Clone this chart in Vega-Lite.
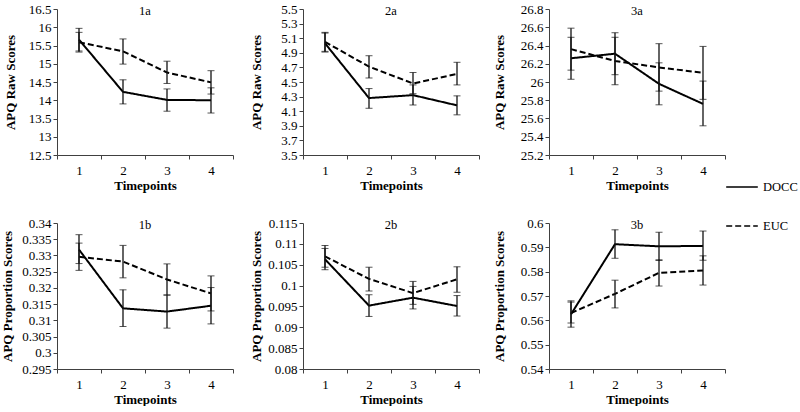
{
  "$schema": "https://vega.github.io/schema/vega-lite/v6.json",
  "padding": {"left": 1, "top": 3, "right": 0, "bottom": 0},
  "background": "white",
  "config": {
    "font": "Liberation Serif, Times New Roman, DejaVu Serif, serif",
    "view": {"stroke": null},
    "axis": {"grid": false, "labelFont": "Liberation Serif, Times New Roman, DejaVu Serif, serif", "labelFontSize": 13, "labelColor": "#000", "titleFont": "Liberation Serif, Times New Roman, DejaVu Serif, serif", "titleFontSize": 13, "titleFontWeight": "bold", "titleColor": "#000", "domainColor": "#404040", "tickColor": "#404040", "tickSize": 4},
    "axisX": {"labelAngle": 0, "tickBand": "extent", "labelPadding": 5, "titlePadding": 2},
    "axisY": {"labelPadding": 2, "titleBaseline": "middle", "titleY": 73, "titleAngle": -90, "labelOverlap": false, "labelExpr": "format(datum.value, '~g')"},
    "title": {"font": "Liberation Serif, Times New Roman, DejaVu Serif, serif", "fontSize": 12.5, "fontWeight": "normal", "offset": -14, "color": "#000"},
    "legend": {"orient": "none", "legendX": 668, "legendY": 161, "symbolType": "stroke", "symbolSize": 1000, "labelFont": "Liberation Serif, Times New Roman, DejaVu Serif, serif", "labelFontSize": 12.5, "labelColor": "#000", "rowPadding": 15, "labelOffset": 4, "title": null}
  },
  "datasets": {
    "d": [
      {"panel": "1a", "group": "DOCC", "t": 1, "mean": 15.66, "hi": 15.97, "lo": 15.35},
      {"panel": "1a", "group": "DOCC", "t": 2, "mean": 14.23, "hi": 14.56, "lo": 13.90},
      {"panel": "1a", "group": "DOCC", "t": 3, "mean": 14.01, "hi": 14.31, "lo": 13.70},
      {"panel": "1a", "group": "DOCC", "t": 4, "mean": 14.00, "hi": 14.34, "lo": 13.65},
      {"panel": "1a", "group": "EUC", "t": 1, "mean": 15.59, "hi": 15.86, "lo": 15.32},
      {"panel": "1a", "group": "EUC", "t": 2, "mean": 15.34, "hi": 15.68, "lo": 14.99},
      {"panel": "1a", "group": "EUC", "t": 3, "mean": 14.76, "hi": 15.07, "lo": 14.46},
      {"panel": "1a", "group": "EUC", "t": 4, "mean": 14.49, "hi": 14.81, "lo": 14.17},
      {"panel": "2a", "group": "DOCC", "t": 1, "mean": 5.03, "hi": 5.17, "lo": 4.91},
      {"panel": "2a", "group": "DOCC", "t": 2, "mean": 4.28, "hi": 4.41, "lo": 4.14},
      {"panel": "2a", "group": "DOCC", "t": 3, "mean": 4.32, "hi": 4.46, "lo": 4.185},
      {"panel": "2a", "group": "DOCC", "t": 4, "mean": 4.18, "hi": 4.31, "lo": 4.05},
      {"panel": "2a", "group": "EUC", "t": 1, "mean": 5.05, "hi": 5.18, "lo": 4.92},
      {"panel": "2a", "group": "EUC", "t": 2, "mean": 4.71, "hi": 4.86, "lo": 4.555},
      {"panel": "2a", "group": "EUC", "t": 3, "mean": 4.48, "hi": 4.63, "lo": 4.34},
      {"panel": "2a", "group": "EUC", "t": 4, "mean": 4.61, "hi": 4.77, "lo": 4.46},
      {"panel": "3a", "group": "DOCC", "t": 1, "mean": 26.26, "hi": 26.49, "lo": 26.03},
      {"panel": "3a", "group": "DOCC", "t": 2, "mean": 26.31, "hi": 26.54, "lo": 26.08},
      {"panel": "3a", "group": "DOCC", "t": 3, "mean": 25.98, "hi": 26.21, "lo": 25.75},
      {"panel": "3a", "group": "DOCC", "t": 4, "mean": 25.76, "hi": 26.01, "lo": 25.52},
      {"panel": "3a", "group": "EUC", "t": 1, "mean": 26.36, "hi": 26.59, "lo": 26.13},
      {"panel": "3a", "group": "EUC", "t": 2, "mean": 26.23, "hi": 26.49, "lo": 25.97},
      {"panel": "3a", "group": "EUC", "t": 3, "mean": 26.16, "hi": 26.42, "lo": 25.90},
      {"panel": "3a", "group": "EUC", "t": 4, "mean": 26.10, "hi": 26.39, "lo": 25.81},
      {"panel": "1b", "group": "DOCC", "t": 1, "mean": 0.3318, "hi": 0.3364, "lo": 0.3275},
      {"panel": "1b", "group": "DOCC", "t": 2, "mean": 0.3137, "hi": 0.3194, "lo": 0.3081},
      {"panel": "1b", "group": "DOCC", "t": 3, "mean": 0.3127, "hi": 0.3178, "lo": 0.3076},
      {"panel": "1b", "group": "DOCC", "t": 4, "mean": 0.3145, "hi": 0.3201, "lo": 0.3089},
      {"panel": "1b", "group": "EUC", "t": 1, "mean": 0.3296, "hi": 0.3338, "lo": 0.3254},
      {"panel": "1b", "group": "EUC", "t": 2, "mean": 0.3281, "hi": 0.3331, "lo": 0.3231},
      {"panel": "1b", "group": "EUC", "t": 3, "mean": 0.3226, "hi": 0.3274, "lo": 0.3178},
      {"panel": "1b", "group": "EUC", "t": 4, "mean": 0.3183, "hi": 0.3237, "lo": 0.3129},
      {"panel": "2b", "group": "DOCC", "t": 1, "mean": 0.1063, "hi": 0.1089, "lo": 0.1038},
      {"panel": "2b", "group": "DOCC", "t": 2, "mean": 0.0952, "hi": 0.0978, "lo": 0.0926},
      {"panel": "2b", "group": "DOCC", "t": 3, "mean": 0.0971, "hi": 0.0998, "lo": 0.0944},
      {"panel": "2b", "group": "DOCC", "t": 4, "mean": 0.0951, "hi": 0.0976, "lo": 0.0927},
      {"panel": "2b", "group": "EUC", "t": 1, "mean": 0.1070, "hi": 0.1096, "lo": 0.1044},
      {"panel": "2b", "group": "EUC", "t": 2, "mean": 0.1016, "hi": 0.1044, "lo": 0.0987},
      {"panel": "2b", "group": "EUC", "t": 3, "mean": 0.0982, "hi": 0.1010, "lo": 0.0955},
      {"panel": "2b", "group": "EUC", "t": 4, "mean": 0.1015, "hi": 0.1045, "lo": 0.0984},
      {"panel": "3b", "group": "DOCC", "t": 1, "mean": 0.5625, "hi": 0.5680, "lo": 0.5572},
      {"panel": "3b", "group": "DOCC", "t": 2, "mean": 0.5913, "hi": 0.5972, "lo": 0.5855},
      {"panel": "3b", "group": "DOCC", "t": 3, "mean": 0.5904, "hi": 0.5962, "lo": 0.5846},
      {"panel": "3b", "group": "DOCC", "t": 4, "mean": 0.5906, "hi": 0.5967, "lo": 0.5847},
      {"panel": "3b", "group": "EUC", "t": 1, "mean": 0.5630, "hi": 0.5675, "lo": 0.5589},
      {"panel": "3b", "group": "EUC", "t": 2, "mean": 0.5709, "hi": 0.5765, "lo": 0.5651},
      {"panel": "3b", "group": "EUC", "t": 3, "mean": 0.5795, "hi": 0.5849, "lo": 0.5741},
      {"panel": "3b", "group": "EUC", "t": 4, "mean": 0.5805, "hi": 0.5865, "lo": 0.5745}
    ]
  },
  "columns": 3,
  "spacing": {"row": 68, "column": 70},
  "bounds": "flush",
  "concat": [
    {
      "width": 176, "height": 146,
      "title": "1a",
      "data": {"name": "d"},
      "transform": [{"filter": "datum.panel === '1a'"}],
      "encoding": {
        "x": {"field": "t", "type": "ordinal", "title": "Timepoints", "scale": {"type": "band", "paddingInner": 0, "paddingOuter": 0}}
      },
      "layer": [
        {"mark": {"type": "line", "color": "black", "strokeWidth": 2},
         "encoding": {"y": {"field": "mean", "type": "quantitative", "title": "APQ Raw Scores", "scale": {"domain": [12.5, 16.5], "nice": false, "zero": false}, "axis": {"titleX": -47, "labelOverlap": false, "tickCount": 30, "values": [12.5, 13, 13.5, 14, 14.5, 15, 15.5, 16, 16.5]}},
           "strokeDash": {"field": "group", "type": "nominal", "scale": {"domain": ["DOCC", "EUC"], "range": [[1, 0], [6, 3]]}}}},
        {"mark": {"type": "errorbar", "ticks": {"size": 7, "strokeWidth": 1.3}, "rule": {"strokeWidth": 1.3}, "color": "#111"},
         "encoding": {"y": {"field": "lo", "type": "quantitative", "title": "APQ Raw Scores"}, "y2": {"field": "hi"}, "detail": {"field": "group"}}}
      ]
    },
    {
      "width": 176, "height": 146,
      "title": "2a",
      "data": {"name": "d"},
      "transform": [{"filter": "datum.panel === '2a'"}],
      "encoding": {
        "x": {"field": "t", "type": "ordinal", "title": "Timepoints", "scale": {"type": "band", "paddingInner": 0, "paddingOuter": 0}}
      },
      "layer": [
        {"mark": {"type": "line", "color": "black", "strokeWidth": 2},
         "encoding": {"y": {"field": "mean", "type": "quantitative", "title": "APQ Raw Scores", "scale": {"domain": [3.5, 5.5], "nice": false, "zero": false}, "axis": {"titleX": -47, "labelOverlap": false, "tickCount": 30, "values": [3.5, 3.7, 3.9, 4.1, 4.3, 4.5, 4.7, 4.9, 5.1, 5.3, 5.5]}},
           "strokeDash": {"field": "group", "type": "nominal", "scale": {"domain": ["DOCC", "EUC"], "range": [[1, 0], [6, 3]]}}}},
        {"mark": {"type": "errorbar", "ticks": {"size": 7, "strokeWidth": 1.3}, "rule": {"strokeWidth": 1.3}, "color": "#111"},
         "encoding": {"y": {"field": "lo", "type": "quantitative", "title": "APQ Raw Scores"}, "y2": {"field": "hi"}, "detail": {"field": "group"}}}
      ]
    },
    {
      "width": 176, "height": 146,
      "title": "3a",
      "data": {"name": "d"},
      "transform": [{"filter": "datum.panel === '3a'"}],
      "encoding": {
        "x": {"field": "t", "type": "ordinal", "title": "Timepoints", "scale": {"type": "band", "paddingInner": 0, "paddingOuter": 0}}
      },
      "layer": [
        {"mark": {"type": "line", "color": "black", "strokeWidth": 2},
         "encoding": {"y": {"field": "mean", "type": "quantitative", "title": "APQ Raw Scores", "scale": {"domain": [25.2, 26.8], "nice": false, "zero": false}, "axis": {"titleX": -50, "labelOverlap": false, "tickCount": 30, "values": [25.2, 25.4, 25.6, 25.8, 26, 26.2, 26.4, 26.6, 26.8]}},
           "strokeDash": {"field": "group", "type": "nominal", "scale": {"domain": ["DOCC", "EUC"], "range": [[1, 0], [6, 3]]}}}},
        {"mark": {"type": "errorbar", "ticks": {"size": 7, "strokeWidth": 1.3}, "rule": {"strokeWidth": 1.3}, "color": "#111"},
         "encoding": {"y": {"field": "lo", "type": "quantitative", "title": "APQ Raw Scores"}, "y2": {"field": "hi"}, "detail": {"field": "group"}}}
      ]
    },
    {
      "width": 176, "height": 146,
      "title": "1b",
      "data": {"name": "d"},
      "transform": [{"filter": "datum.panel === '1b'"}],
      "encoding": {
        "x": {"field": "t", "type": "ordinal", "title": "Timepoints", "scale": {"type": "band", "paddingInner": 0, "paddingOuter": 0}}
      },
      "layer": [
        {"mark": {"type": "line", "color": "black", "strokeWidth": 2},
         "encoding": {"y": {"field": "mean", "type": "quantitative", "title": "APQ Proportion Scores", "scale": {"domain": [0.295, 0.34], "nice": false, "zero": false}, "axis": {"titleX": -50, "labelOverlap": false, "tickCount": 30, "values": [0.295, 0.3, 0.305, 0.31, 0.315, 0.32, 0.325, 0.33, 0.335, 0.34]}},
           "strokeDash": {"field": "group", "type": "nominal", "scale": {"domain": ["DOCC", "EUC"], "range": [[1, 0], [6, 3]]}}}},
        {"mark": {"type": "errorbar", "ticks": {"size": 7, "strokeWidth": 1.3}, "rule": {"strokeWidth": 1.3}, "color": "#111"},
         "encoding": {"y": {"field": "lo", "type": "quantitative", "title": "APQ Proportion Scores"}, "y2": {"field": "hi"}, "detail": {"field": "group"}}}
      ]
    },
    {
      "width": 176, "height": 146,
      "title": "2b",
      "data": {"name": "d"},
      "transform": [{"filter": "datum.panel === '2b'"}],
      "encoding": {
        "x": {"field": "t", "type": "ordinal", "title": "Timepoints", "scale": {"type": "band", "paddingInner": 0, "paddingOuter": 0}}
      },
      "layer": [
        {"mark": {"type": "line", "color": "black", "strokeWidth": 2},
         "encoding": {"y": {"field": "mean", "type": "quantitative", "title": "APQ Proportion Scores", "scale": {"domain": [0.08, 0.115], "nice": false, "zero": false}, "axis": {"titleX": -47, "labelOverlap": false, "tickCount": 30, "values": [0.08, 0.085, 0.09, 0.095, 0.1, 0.105, 0.11, 0.115]}},
           "strokeDash": {"field": "group", "type": "nominal", "scale": {"domain": ["DOCC", "EUC"], "range": [[1, 0], [6, 3]]}}}},
        {"mark": {"type": "errorbar", "ticks": {"size": 7, "strokeWidth": 1.3}, "rule": {"strokeWidth": 1.3}, "color": "#111"},
         "encoding": {"y": {"field": "lo", "type": "quantitative", "title": "APQ Proportion Scores"}, "y2": {"field": "hi"}, "detail": {"field": "group"}}}
      ]
    },
    {
      "width": 176, "height": 146,
      "title": "3b",
      "data": {"name": "d"},
      "transform": [{"filter": "datum.panel === '3b'"}],
      "encoding": {
        "x": {"field": "t", "type": "ordinal", "title": "Timepoints", "scale": {"type": "band", "paddingInner": 0, "paddingOuter": 0}}
      },
      "layer": [
        {"mark": {"type": "line", "color": "black", "strokeWidth": 2},
         "encoding": {"y": {"field": "mean", "type": "quantitative", "title": "APQ Proportion Scores", "scale": {"domain": [0.54, 0.6], "nice": false, "zero": false}, "axis": {"titleX": -50, "labelOverlap": false, "tickCount": 30, "values": [0.54, 0.55, 0.56, 0.57, 0.58, 0.59, 0.6]}},
           "strokeDash": {"field": "group", "type": "nominal", "scale": {"domain": ["DOCC", "EUC"], "range": [[1, 0], [6, 3]]}}}},
        {"mark": {"type": "errorbar", "ticks": {"size": 7, "strokeWidth": 1.3}, "rule": {"strokeWidth": 1.3}, "color": "#111"},
         "encoding": {"y": {"field": "lo", "type": "quantitative", "title": "APQ Proportion Scores"}, "y2": {"field": "hi"}, "detail": {"field": "group"}}}
      ]
    }
  ]
}
